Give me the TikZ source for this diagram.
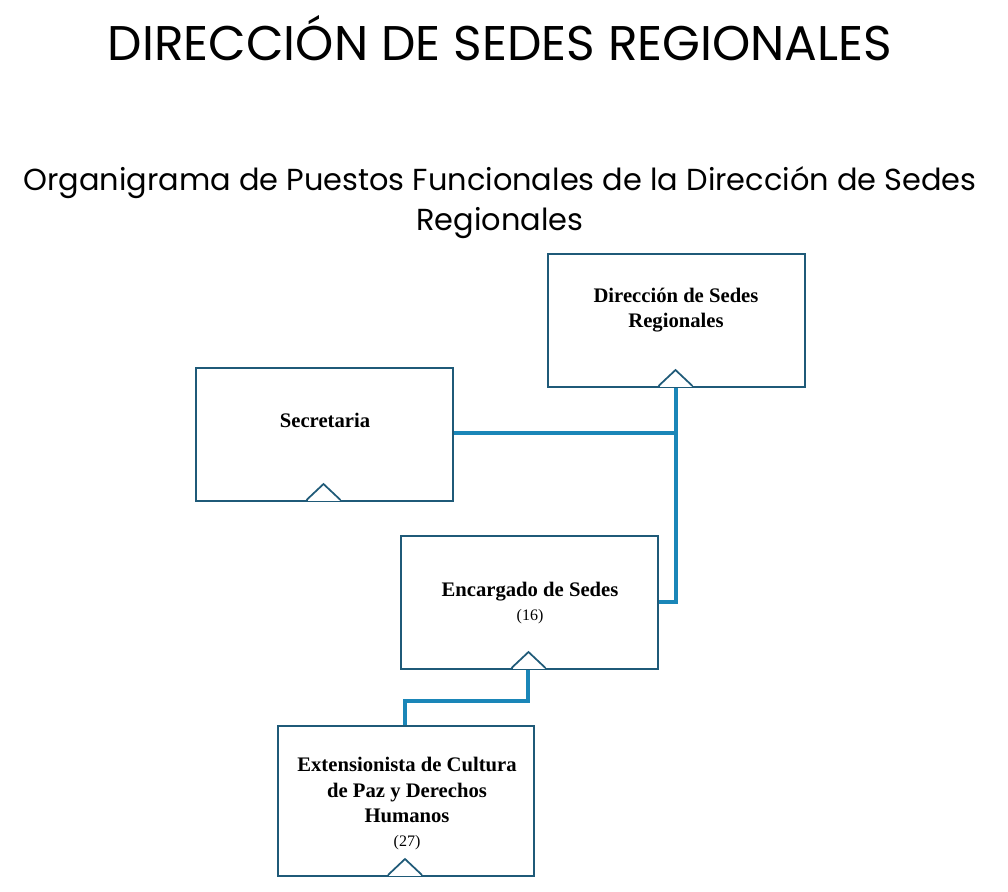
\documentclass[tikz,border=0pt]{standalone}
\usepackage{fontspec}
\setmainfont{Liberation Serif}
\newfontfamily\titlefont{Poppins}
\definecolor{boxc}{HTML}{1F5A78}
\definecolor{linec}{HTML}{1A86B8}
\begin{document}
\begin{tikzpicture}[x=0.75pt,y=-0.75pt,
  obox/.style={draw=boxc,line width=1.3pt,fill=white,inner sep=0pt,anchor=north west},
  conn/.style={draw=linec,line width=3pt},
  btext/.style={font=\bfseries\fontsize{15.5}{19}\selectfont,align=center,text=black},
  ntext/.style={font=\fontsize{12}{14}\selectfont,text=black}]
\useasboundingbox (0,0) rectangle (1008,892);
\node[font=\titlefont\fontsize{36.5}{42}\selectfont] (t1) at (500,38) {DIRECCIÓN DE SEDES REGIONALES};
\node[font=\titlefont\fontsize{22.8}{30}\selectfont,align=center] (t2) at (500,203) {Organigrama de Puestos Funcionales de la Dirección de Sedes\\Regionales};
\newcommand\notchbox[5]{%
 \node[obox,minimum width=#4*0.75pt-#2*0.75pt,minimum height=#5*0.75pt-#3*0.75pt] (#1) at (#2,#3) {};
 \pgfmathsetmacro\cx{(#2+#4)/2}
 \draw[white,line width=2pt] (\cx-16,#5) -- (\cx+16,#5);
 \draw[boxc,line width=1.3pt] (\cx-17,#5) -- (\cx,#5-16) -- (\cx+17,#5);
}
\draw[conn] (676,387) -- (676,602) -- (657,602);
\draw[conn] (452,433) -- (676,433);
\draw[conn] (528,669) -- (528,701) -- (405,701) -- (405,725);
\notchbox{dir}{547}{253}{804}{386}
\notchbox{sec}{195}{367}{452}{500}
\notchbox{enc}{400}{535}{657}{668}
\notchbox{ext}{277}{725}{533}{875}
\node[btext] (dirt) at (676,310) {Dirección de Sedes\\Regionales};
\node[btext] (sect) at (325,420) {Secretaria};
\node[btext] (enct) at (530,592) {Encargado de Sedes};
\node[ntext] (encn) at (530,617) {(16)};
\node[btext] (extt) at (407,790) {Extensionista de Cultura\\de Paz y Derechos\\Humanos};
\node[ntext] (extn) at (407,843) {(27)};
\end{tikzpicture}
\end{document}
